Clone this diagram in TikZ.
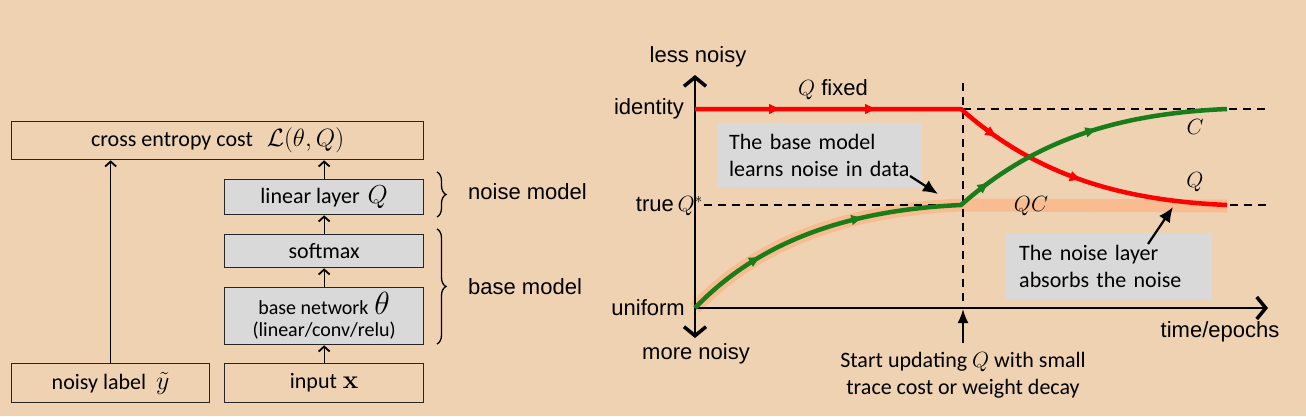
\RequirePackage{fix-cm}
\documentclass[tikz,border=0pt]{standalone}
\usepackage[no-math]{fontspec}
\setmainfont{Carlito}
\newfontfamily\arialf{Liberation Sans}
\usetikzlibrary{arrows.meta,decorations.pathreplacing,decorations.markings}
\definecolor{bgc}{RGB}{239,210,177}
\definecolor{boxg}{RGB}{217,217,217}
\definecolor{grn}{RGB}{25,125,25}
\definecolor{orng}{RGB}{249,188,145}
\definecolor{rd}{RGB}{255,0,0}
\newcommand\mytip{\arrow{Latex[length=13pt,width=11pt]}}
\newcommand\boxmath[1]{{\fontsize{26}{27}\selectfont$#1$}}
\begin{document}
\begin{tikzpicture}[x=1pt,y=-1pt,
  blk/.style={draw=black!85, line width=1.3pt, anchor=north west, inner sep=0pt, align=center,
              font=\fontsize{22}{27}\selectfont},
  gblk/.style={blk, fill=boxg},
  larr/.style={line width=1.3pt, -{Straight Barb[length=5pt,width=11pt,line width=1.8pt]}},
  brc/.style={decorate, decoration={brace, amplitude=9pt}, line width=1.3pt},
  lbl/.style={font=\arialf\fontsize{22}{26}\selectfont, inner sep=0pt},
  txt/.style={font=\fontsize{22}{27}\selectfont, inner sep=0pt},
  axis/.style={line width=2pt},
  dsh/.style={line width=1.8pt, dash pattern=on 8pt off 6pt},
  call/.style={fill=boxg, anchor=north west, inner sep=0pt, align=left,
               font=\fontsize{22}{27}\selectfont},
  carr/.style={line width=2.2pt, -{Latex[length=15pt,width=13pt]}},
  cline/.style={line width=4.5pt, line join=round}
]
\useasboundingbox[fill=bgc] (0,0) rectangle (1306,416);

% ---------- left panel ----------
\node[blk, minimum width=412pt, minimum height=38pt] (cost) at (11,121)
  {cross entropy cost\hspace{14pt}{\fontsize{25}{27}\selectfont$\mathcal{L}(\theta,Q)$}};
\node[gblk, minimum width=199pt, minimum height=35pt] (lin) at (224,179)
  {linear layer\hspace{8pt}\boxmath{Q}};
\node[gblk, minimum width=199pt, minimum height=33pt] (soft) at (224,234) {softmax};
\node[gblk, minimum width=199pt, minimum height=57pt] (base) at (224,287)
  {\fontsize{20}{24}\selectfont base network\hspace{6pt}{\fontsize{32}{24}\selectfont$\theta$}\\[-5pt]
   \fontsize{20}{24}\selectfont (linear/conv/relu)};
\node[blk, minimum width=199pt, minimum height=39pt] (inp) at (224,363) {input\hspace{6pt}\boxmath{\mathbf{x}}};
\node[blk, minimum width=198pt, minimum height=39pt] (noisy) at (11,363) {noisy label\hspace{10pt}\boxmath{\tilde{y}}};

\draw[larr] (noisy.north) -- (noisy.north |- cost.south);
\draw[larr] (inp.north) -- (base.south);
\draw[larr] (base.north) -- (soft.south);
\draw[larr] (soft.north) -- (lin.south);
\draw[larr] (lin.north) -- (lin.north |- cost.south);

\draw[brc] (437,172) -- (437,217);
\draw[brc] (437,229) -- (437,344);
\node[lbl, anchor=west] (nm) at (468,192) {noise model};
\node[lbl, anchor=west] (bm) at (468,287) {base model};

% ---------- right panel ----------
\coordinate (O) at (695,308);
\coordinate (ytop) at (695,75);
\coordinate (ybot) at (695,338);
\coordinate (xend) at (1268,308);
\coordinate (idl) at (695,109);
\coordinate (swq) at (961,109);
\coordinate (swc) at (961,205);
\coordinate (endq) at (1227,205);
\coordinate (endc) at (1227,109);

% dashed guide line on the right (covered by the band)
\draw[dsh] (1266,205) -- (963,205);

% orange band
\draw[orng, line width=13pt, line join=round]
  (O) .. controls (760,240) and (850,210) .. (swc) -- (1227,206);

% dashed guide lines
\draw[dsh] (963,109) -- (1266,109);
\draw[dsh] (704,205) -- (957,205);
\draw[dsh] (963,83) -- (963,308);

% axes
\draw[axis, {Straight Barb[length=9pt,width=22pt,line width=3.5pt]}-{Straight Barb[length=9pt,width=22pt,line width=3.5pt]}]
  (ybot) -- (ytop);
\draw[axis, -{Straight Barb[length=9pt,width=22pt,line width=3.5pt]}] (O) -- (xend);

% curves
\draw[cline, rd, postaction={decorate},
  decoration={markings, mark=at position 87pt with {\mytip}, mark=at position 183pt with {\mytip},
              mark=at position 313pt with {\mytip}, mark=at position 408pt with {\mytip}}]
  (idl) -- (swq) .. controls (1030,170) and (1110,200) .. (endq);
\draw[cline, grn, postaction={decorate},
  decoration={markings, mark=at position 85pt with {\mytip}, mark=at position 195pt with {\mytip},
              mark=at position 330pt with {\mytip}, mark=at position 451pt with {\mytip}}]
  (O) .. controls (760,240) and (850,210) .. (swc) .. controls (1030,144) and (1110,114) .. (endc);

% axis labels
\node[lbl] (ln) at (698,57) {less noisy};
\node[lbl, anchor=east] (idt) at (684,109) {identity};
\node[lbl, anchor=east] (tq) at (703,206) {true\,$Q^{*}$};
\node[lbl, anchor=east] (unf) at (685,308) {uniform};
\node[lbl] (mn) at (696,354) {more noisy};
\node[lbl] (te) at (1220,332) {time/epochs};
\node[lbl] (qf) at (833,90) {$Q$ fixed};
\node[lbl] (lc) at (1195,127) {$C$};
\node[lbl] (lq) at (1195,182) {$Q$};
\node[lbl] (lqc) at (1031,206) {$QC$};

% callouts
\node[call, minimum width=205pt, minimum height=64pt, text width=205pt] (c1) at (717,123)
  {\hspace*{12pt}The base model\\\hspace*{12pt}learns noise in data};
\coordinate (c1a) at (910,176);
\coordinate (c1b) at (938,194);
\draw[carr] (c1a) -- (c1b);

\node[call, minimum width=206pt, minimum height=66pt, text width=206pt] (c2) at (1006,233)
  {\hspace*{13pt}The noise layer\\\hspace*{13pt}absorbs the noise};
\coordinate (c2a) at (1148,244);
\coordinate (c2b) at (1173,207);
\draw[carr] (c2a) -- (c2b);

% start updating
\coordinate (su) at (963,343);
\coordinate (sut) at (963,309);
\draw[line width=2pt, -{Latex[length=14pt,width=11pt]}] (su) -- (sut);
\node[txt, align=center, anchor=north] (st) at (963,352)
  {Start updating $Q$ with small\\trace cost or weight decay};
\end{tikzpicture}
\end{document}
